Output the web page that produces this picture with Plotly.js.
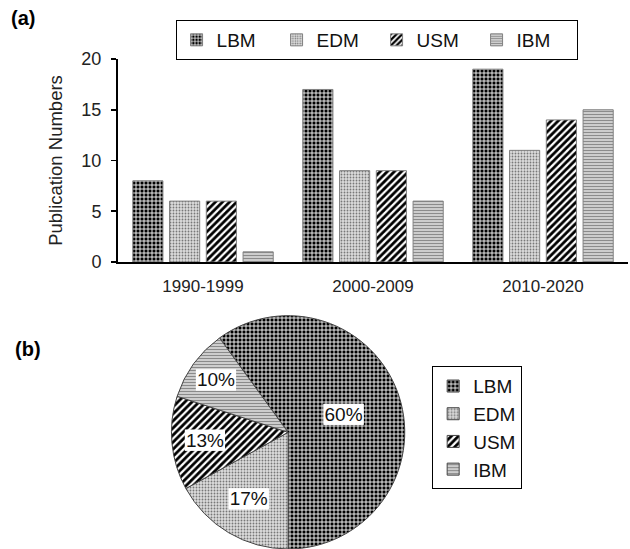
<!DOCTYPE html>
<html>
<head>
<meta charset="utf-8">
<script src="https://cdn.plot.ly/plotly-3.0.1.min.js"></script>
<style>html,body{margin:0;padding:0;background:#fff;}#chart{width:630px;height:549px;}</style>
</head>
<body>
<div id="chart"></div>
<script>
// ---- data ----
const categories = ['1990-1999', '2000-2009', '2010-2020'];
const seriesNames = ['LBM', 'EDM', 'USM', 'IBM'];
const lbmCounts = [8, 17, 19];
const edmCounts = [6, 9, 11];
const usmCounts = [6, 9, 14];
const ibmCounts = [1, 6, 15];
const pieLabels = ['LBM', 'EDM', 'USM', 'IBM'];
const pieValues = [60, 17, 13, 10];

// ---- styles ----
const patterns = {
  LBM: {shape: '+', fgcolor: '#fff', bgcolor: '#000', size: 4, solidity: 0.4, fillmode: 'replace'},
  EDM: {shape: '.', fgcolor: '#777', bgcolor: '#dcdcdc', size: 3, solidity: 0.3, fillmode: 'replace'},
  USM: {shape: '/', fgcolor: '#000', bgcolor: '#fff', size: 5, solidity: 0.55, fillmode: 'replace'},
  IBM: {shape: '-', fgcolor: '#8a8a8a', bgcolor: '#e4e4e4', size: 3, solidity: 0.5, fillmode: 'replace'}
};
const font = 'Liberation Sans, Arial, sans-serif';
const seriesValues = [lbmCounts, edmCounts, usmCounts, ibmCounts];

const traces = seriesNames.map((n, i) => ({
  type: 'bar', name: n, x: categories, y: seriesValues[i],
  xaxis: 'x', yaxis: 'y', legend: 'legend',
  marker: {color: patterns[n].bgcolor, pattern: patterns[n], line: {color: '#808080', width: 1}},
  hoverinfo: 'skip'
}));

traces.push({
  type: 'pie', labels: pieLabels, values: pieValues, sort: false,
  direction: 'clockwise', rotation: -36, legend: 'legend2',
  domain: {x: [0.104, 0.563], y: [0, 0.425]},
  marker: {
    colors: pieLabels.map(l => patterns[l].bgcolor),
    pattern: {
      shape: pieLabels.map(l => patterns[l].shape),
      fgcolor: pieLabels.map(l => patterns[l].fgcolor),
      bgcolor: pieLabels.map(l => patterns[l].bgcolor),
      size: pieLabels.map(l => patterns[l].size),
      solidity: pieLabels.map(l => patterns[l].solidity),
      fillmode: 'replace'
    },
    line: {color: '#444', width: 1}
  },
  textinfo: 'percent', texttemplate: '%{percent:.0%}',
  textposition: 'inside', insidetextorientation: 'horizontal',
  textfont: {family: font, size: 19, color: '#111'},
  hoverinfo: 'skip'
});

const layout = {
  width: 630, height: 549,
  margin: {l: 118, r: 2, t: 0, b: 0},
  paper_bgcolor: '#fff', plot_bgcolor: '#fff',
  font: {family: font, size: 17, color: '#222'},
  barmode: 'group', bargap: 0.135, bargroupgap: 0.18,
  xaxis: {
    domain: [0, 1], anchor: 'y', range: [-0.5, 2.5],
    showline: true, linecolor: '#000', linewidth: 2,
    ticks: 'outside', ticklen: 8, tickcolor: 'rgba(0,0,0,0)',
    tickfont: {size: 17, color: '#222'}, showgrid: false, zeroline: false
  },
  yaxis: {
    domain: [0.5228, 0.8925], anchor: 'x', range: [0, 20], dtick: 5,
    showline: true, linecolor: '#000', linewidth: 2,
    ticks: 'outside', ticklen: 5, tickwidth: 1.5, tickcolor: '#000',
    ticklabelstandoff: 6,
    tickfont: {size: 18, color: '#222'}, showgrid: false, zeroline: false,
    title: {text: 'Publication Numbers', font: {size: 18.5, color: '#222'}, standoff: 14}
  },
  legend: {
    orientation: 'h', x: 0.507, xanchor: 'center', y: 0.8907, yanchor: 'bottom',
    bordercolor: '#000', borderwidth: 1, bgcolor: '#fff',
    font: {size: 19, color: '#111'}, entrywidth: 55, entrywidthmode: 'pixels', traceorder: 'normal'
  },
  legend2: {
    x: 0.616, xanchor: 'left', y: 0.333, yanchor: 'top',
    bordercolor: '#000', borderwidth: 1, bgcolor: '#fff',
    font: {size: 19, color: '#111'}, tracegroupgap: 0
  },
  annotations: [
    {text: '<b>(a)</b>', xref: 'paper', yref: 'paper', x: -0.214, y: 0.967, xanchor: 'left', yanchor: 'middle', showarrow: false, font: {size: 20, color: '#000'}},
    {text: '<b>(b)</b>', xref: 'paper', yref: 'paper', x: -0.206, y: 0.365, xanchor: 'left', yanchor: 'middle', showarrow: false, font: {size: 20, color: '#000'}}
  ],
  showlegend: true
};

Plotly.newPlot('chart', traces, layout, {staticPlot: true, displayModeBar: false}).then(gd => {
  gd.querySelectorAll('.slicetext').forEach(t => {
    const bb = t.getBBox();
    const r = document.createElementNS('http://www.w3.org/2000/svg', 'rect');
    r.setAttribute('x', bb.x - 1); r.setAttribute('y', bb.y);
    r.setAttribute('width', bb.width + 2); r.setAttribute('height', bb.height);
    r.setAttribute('fill', '#fff');
    const tr = t.getAttribute('transform');
    if (tr) r.setAttribute('transform', tr);
    t.parentNode.insertBefore(r, t);
  });
});
</script>
</body>
</html>
